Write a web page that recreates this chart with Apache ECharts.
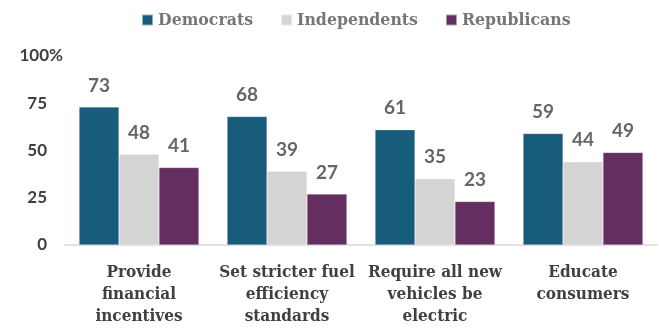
<!DOCTYPE html>
<html>
<head>
<meta charset="utf-8">
<script src="https://cdn.jsdelivr.net/npm/echarts@6/dist/echarts.min.js"></script>
<style>
  html, body { margin: 0; padding: 0; background: #fff; }
  #chart { width: 659px; height: 328px; }
</style>
</head>
<body>
<div id="chart"></div>
<script>
// survey data (percent)
const categories = [
  'Provide\nfinancial\nincentives',
  'Set stricter fuel\nefficiency\nstandards',
  'Require all new\nvehicles be\nelectric',
  'Educate\nconsumers'
];
const democrats = [73, 68, 61, 59];
const independents = [48, 39, 35, 44];
const republicans = [41, 27, 23, 49];
const yTicks = [0, 25, 50, 75, 100];

const slab = '"DejaVu Serif Condensed", "DejaVu Serif", serif';
const sans = 'Lato, "Open Sans", sans-serif';

let myChart = echarts.init(document.getElementById('chart'));

const labelStyle = {
  show: true,
  position: 'top',
  distance: 12,
  fontFamily: sans,
  fontWeight: 'bold',
  fontSize: 19,
  color: '#666666'
};

function bar(name, data, color) {
  return {
    name: name,
    type: 'bar',
    data: data,
    barGap: '0%',
    barCategoryGap: '19%',
    itemStyle: { color: color, borderColor: 'rgba(255,255,255,0.5)', borderWidth: 0.5 },
    label: labelStyle
  };
}

const yFont = { fontFamily: sans, fontWeight: 'bold', fontSize: 17, color: '#404040' };

myChart.setOption({
  animation: false,
  legend: {
    top: 6,
    left: 136,
    icon: 'rect',
    itemWidth: 11,
    itemHeight: 11,
    itemGap: 27,
    textStyle: { fontFamily: slab, fontWeight: 'bold', fontSize: 17.5, color: '#767676' }
  },
  grid: { left: 65, right: 2, top: 56, bottom: 78 },
  xAxis: {
    type: 'category',
    data: categories,
    axisTick: { show: false },
    axisLine: { lineStyle: { color: '#d9d9d9', width: 1.5 } },
    axisLabel: {
      interval: 0,
      margin: 17,
      fontFamily: slab,
      fontWeight: 'bold',
      fontSize: 17,
      lineHeight: 22,
      color: '#404040'
    }
  },
  yAxis: {
    type: 'value',
    min: yTicks[0],
    max: yTicks[yTicks.length - 1],
    interval: 25,
    splitLine: { show: false },
    axisLine: { show: false },
    axisTick: { show: false },
    axisLabel: {
      margin: 2,
      formatter: function (v) {
        // "%" only on the top tick; it hangs past the other numbers
        return v === 100 ? '{n|100%}' : '{n|' + v + '}{s| }';
      },
      rich: {
        n: yFont,
        s: { fontSize: 17, width: 16 }
      }
    }
  },
  series: [
    bar('Democrats', democrats, '#175c7a'),
    bar('Independents', independents, '#d4d4d4'),
    bar('Republicans', republicans, '#642e61')
  ]
});
</script>
</body>
</html>
